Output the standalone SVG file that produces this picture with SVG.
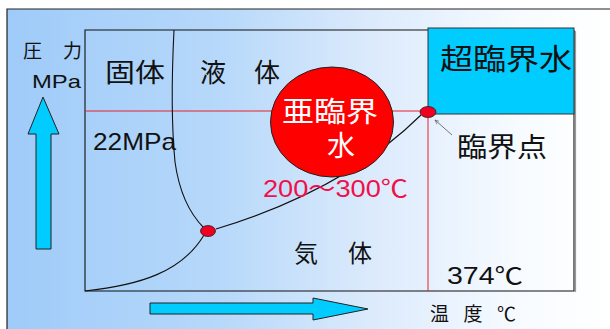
<svg xmlns="http://www.w3.org/2000/svg" width="610" height="329" viewBox="0 0 610 329">
<defs>
<linearGradient id="bg" x1="7" y1="0" x2="610" y2="0" gradientUnits="userSpaceOnUse">
<stop offset="0" stop-color="#9fcbf9"/>
<stop offset="0.35" stop-color="#b6d8fa"/>
<stop offset="0.6" stop-color="#dbeafc"/>
<stop offset="0.85" stop-color="#f7fbff"/>
<stop offset="1" stop-color="#ffffff"/>
</linearGradient>
<marker id="ah" viewBox="0 0 10 10" refX="9" refY="5" markerWidth="6" markerHeight="6" orient="auto">
<path d="M0,1 L9,5 L0,9" fill="none" stroke="#555" stroke-width="1.2"/>
</marker>
<style>
.t{font-family:"Noto Sans CJK JP","Liberation Sans",sans-serif;fill:#111}
.n{font-family:"Liberation Sans","Noto Sans CJK JP",sans-serif;fill:#111}
.w{font-family:"Liberation Sans","Noto Sans CJK JP",sans-serif;fill:#fff}
.blk{fill:none;stroke:#111;stroke-width:1.1}
.red{fill:none;stroke:#e8202a;stroke-width:1}
.arrow{fill:#00ccff;stroke:#222;stroke-width:1}
.pt{fill:#f00020;stroke:#222;stroke-width:0.8}
</style>
</defs>
<rect x="0" y="0" width="610" height="329" fill="#ffffff"/>
<rect x="7" y="9" width="603" height="320" fill="url(#bg)"/>
<path d="M7,329 V9 H610" fill="none" stroke="#222" stroke-width="1.2"/>

<g id="plot">
<path d="M574,30 V291 H85 V30 H430" class="blk"/>
<line x1="575.5" y1="31" x2="575.5" y2="292" stroke="#999" stroke-width="1.2"/>
</g>

<g id="supercritical">
<rect x="428" y="28" width="146" height="86" fill="#00ccff" stroke="#333" stroke-width="1"/>
<text x="506" y="70" class="t" font-size="29" text-anchor="middle" textLength="132" lengthAdjust="spacingAndGlyphs">超臨界水</text>
</g>

<g id="connectors">
<line x1="85" y1="111" x2="428" y2="111" class="red"/>
<line x1="428" y1="112" x2="428" y2="291" class="red"/>
<path d="M174,30 Q170,110 175,162 Q181,205 204,228" class="blk"/>
<path d="M85,291 C140,285 182,272 204,235" class="blk"/>
<path d="M216,229 Q345,190 421,115" class="blk"/>
<line x1="452" y1="135" x2="435" y2="120" stroke="#555" stroke-width="0.8" marker-end="url(#ah)"/>
</g>

<g id="subcritical">
<ellipse cx="332" cy="122" rx="61.5" ry="55" fill="#ff0000" stroke="#222" stroke-width="1"/>
<text x="330" y="122" class="w" font-size="28" text-anchor="middle" textLength="96" lengthAdjust="spacingAndGlyphs">亜臨界</text>
<text x="341" y="156" class="w" font-size="28" text-anchor="middle">水</text>
</g>

<g id="critical-point">
<ellipse cx="428" cy="112" rx="8" ry="5.5" class="pt"/>
</g>
<g id="triple-point">
<ellipse cx="208" cy="231" rx="7.5" ry="5.5" class="pt"/>
</g>

<g id="p-arrow">
<path d="M43,97 L59,134 H51 V249 H36 V134 H28 Z" class="arrow"/>
</g>
<g id="t-arrow">
<path d="M150,303 H313 V298 L368,309 L313,320 V314 H150 Z" class="arrow"/>
</g>

<g id="labels">
<text x="23" y="58" class="t" font-size="19" textLength="59" lengthAdjust="spacing">圧 力</text>
<text x="32" y="88" class="n" font-size="19" textLength="49" lengthAdjust="spacingAndGlyphs">MPa</text>
<text x="105" y="82" class="t" font-size="26" textLength="60" lengthAdjust="spacingAndGlyphs">固体</text>
<text x="200" y="82" class="t" font-size="26" textLength="80" lengthAdjust="spacing">液 体</text>
<text x="93" y="150" class="n" font-size="24" textLength="83" lengthAdjust="spacingAndGlyphs">22MPa</text>
<text x="457" y="157" class="t" font-size="27" textLength="90" lengthAdjust="spacingAndGlyphs">臨界点</text>
<text x="263" y="197" class="n" font-size="24" style="fill:#f0104a" textLength="145" lengthAdjust="spacingAndGlyphs">200～300℃</text>
<text x="294" y="262" class="t" font-size="24" textLength="78" lengthAdjust="spacing">気 体</text>
<text x="447" y="284" class="n" font-size="23" textLength="76" lengthAdjust="spacingAndGlyphs">374℃</text>
<text x="430" y="321" class="t" font-size="19" textLength="86" lengthAdjust="spacing">温 度 ℃</text>
</g>
</svg>
